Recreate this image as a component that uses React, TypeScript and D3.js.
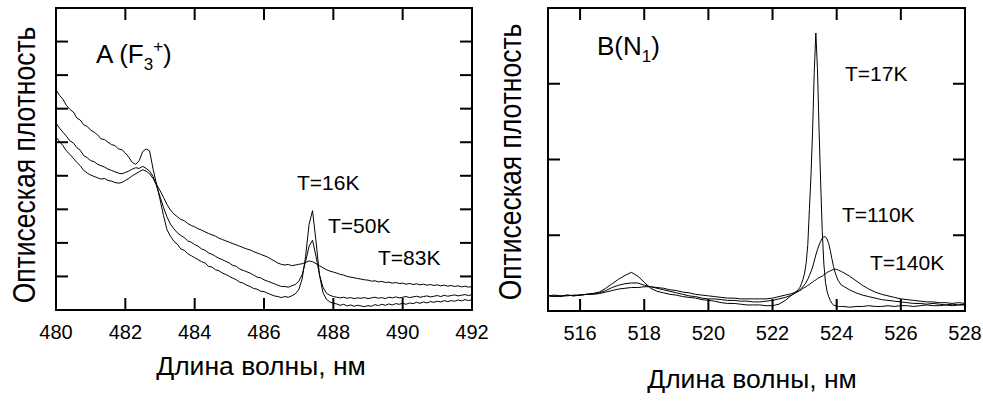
import React from 'react';
import * as d3 from 'd3';

const W = 983;
const H = 403;
const FONT = '"Liberation Sans", Arial, sans-serif';

// panel A (F3+ centre), wavelength grid 480..492 nm, step 0.1
const xA = d3.range(0, 121).map(i => +(480 + i * 0.1).toFixed(2));
const a16K = [
  6.56, 6.40, 6.28, 6.10, 5.98, 5.90, 5.72, 5.66, 5.52, 5.47,
  5.36, 5.30, 5.22, 5.10, 5.08, 5.00, 4.93, 4.90, 4.80, 4.78,
  4.68, 4.55, 4.40, 4.34, 4.45, 4.72, 4.80, 4.74, 4.20, 3.75,
  3.30, 2.82, 2.40, 2.20, 2.05, 1.96, 1.82, 1.78, 1.68, 1.62,
  1.56, 1.50, 1.44, 1.40, 1.30, 1.28, 1.20, 1.17, 1.10, 1.06,
  1.00, 0.95, 0.90, 0.83, 0.80, 0.74, 0.70, 0.64, 0.62, 0.56,
  0.55, 0.50, 0.46, 0.42, 0.40, 0.37, 0.40, 0.38, 0.42, 0.48,
  0.60, 0.92, 1.60, 2.55, 2.96, 2.05, 1.05, 0.52, 0.32, 0.24,
  0.20, 0.18, 0.14, 0.17, 0.12, 0.15, 0.11, 0.14, 0.12, 0.10,
  0.13, 0.11, 0.16, 0.13, 0.17, 0.14, 0.18, 0.15, 0.19, 0.17,
  0.20, 0.17, 0.21, 0.19, 0.23, 0.20, 0.24, 0.21, 0.25, 0.23,
  0.26, 0.24, 0.28, 0.25, 0.28, 0.26, 0.30, 0.27, 0.31, 0.28,
  0.31,
];
const a50K = [
  5.57, 5.42, 5.30, 5.18, 5.04, 4.98, 4.84, 4.76, 4.60, 4.54,
  4.45, 4.42, 4.34, 4.30, 4.26, 4.20, 4.16, 4.12, 4.08, 4.06,
  4.10, 4.14, 4.20, 4.24, 4.22, 4.28, 4.22, 4.14, 3.98, 3.70,
  3.38, 3.06, 2.78, 2.56, 2.42, 2.30, 2.22, 2.16, 2.06, 2.02,
  1.95, 1.90, 1.82, 1.78, 1.70, 1.66, 1.60, 1.54, 1.50, 1.45,
  1.40, 1.33, 1.30, 1.22, 1.18, 1.14, 1.10, 1.04, 0.98, 0.96,
  0.90, 0.86, 0.82, 0.78, 0.74, 0.70, 0.70, 0.68, 0.72, 0.76,
  0.85, 1.05, 1.45, 1.90, 2.08, 1.60, 1.05, 0.68, 0.50, 0.44,
  0.40, 0.38, 0.36, 0.38, 0.35, 0.37, 0.34, 0.36, 0.35, 0.37,
  0.34, 0.36, 0.38, 0.35, 0.37, 0.34, 0.38, 0.36, 0.39, 0.36,
  0.38, 0.40, 0.37, 0.39, 0.41, 0.38, 0.40, 0.42, 0.39, 0.41,
  0.43, 0.40, 0.44, 0.41, 0.43, 0.45, 0.42, 0.44, 0.46, 0.43,
  0.46,
];
const a83K = [
  5.16, 5.02, 4.90, 4.74, 4.64, 4.52, 4.40, 4.30, 4.16, 4.08,
  4.02, 3.98, 3.94, 3.90, 3.92, 3.86, 3.84, 3.80, 3.78, 3.80,
  3.86, 3.92, 4.00, 4.06, 4.12, 4.18, 4.14, 4.06, 3.92, 3.74,
  3.56, 3.36, 3.15, 2.98, 2.86, 2.78, 2.70, 2.66, 2.58, 2.52,
  2.48, 2.42, 2.38, 2.33, 2.28, 2.24, 2.20, 2.14, 2.10, 2.06,
  2.02, 1.98, 1.94, 1.90, 1.86, 1.82, 1.79, 1.74, 1.70, 1.66,
  1.62, 1.58, 1.52, 1.46, 1.40, 1.36, 1.34, 1.36, 1.32, 1.34,
  1.36, 1.38, 1.42, 1.46, 1.44, 1.38, 1.32, 1.26, 1.20, 1.16,
  1.13, 1.10, 1.06, 1.04, 1.00, 0.98, 0.96, 0.94, 0.92, 0.90,
  0.89, 0.86, 0.87, 0.84, 0.85, 0.82, 0.83, 0.80, 0.82, 0.79,
  0.80, 0.77, 0.79, 0.76, 0.78, 0.75, 0.77, 0.74, 0.76, 0.73,
  0.75, 0.72, 0.74, 0.71, 0.73, 0.70, 0.72, 0.69, 0.71, 0.68,
  0.70,
];

// panel B (N1 centre): coarse grid, finer around the 523.4 nm line
const xB = [
  ...d3.range(0, 39).map(i => +(515 + i * 0.2).toFixed(2)),
  ...d3.range(0, 28).map(i => +(522.8 + i * 0.05).toFixed(2)),
  ...d3.range(0, 20).map(i => +(524.2 + i * 0.2).toFixed(2)),
];
const b17K = [
  0.20, 0.20, 0.19, 0.21, 0.20, 0.21, 0.22, 0.23, 0.25, 0.30,
  0.36, 0.42, 0.47, 0.51, 0.46, 0.38, 0.30, 0.26, 0.24, 0.22,
  0.21, 0.19, 0.18, 0.17, 0.15, 0.14, 0.13, 0.11, 0.10, 0.10,
  0.09, 0.08, 0.08, 0.08, 0.07, 0.07, 0.09, 0.14, 0.21,
  0.28, 0.31, 0.36, 0.42, 0.50, 0.64, 0.88, 1.35, 1.80, 2.40,
  3.15, 3.67, 3.20, 2.40, 1.70, 1.05, 0.62, 0.38, 0.26, 0.19,
  0.14, 0.10, 0.08, 0.07, 0.07, 0.06, 0.06, 0.06,
  0.06, 0.05, 0.06, 0.06, 0.07, 0.06, 0.06, 0.07, 0.06, 0.07,
  0.07, 0.06, 0.07, 0.08, 0.07, 0.07, 0.08, 0.07, 0.08, 0.08,
];
const b110K = [
  0.20, 0.21, 0.20, 0.21, 0.20, 0.21, 0.22, 0.23, 0.24, 0.27,
  0.31, 0.34, 0.36, 0.37, 0.37, 0.34, 0.32, 0.30, 0.28, 0.26,
  0.24, 0.22, 0.20, 0.19, 0.17, 0.16, 0.16, 0.15, 0.14, 0.14,
  0.13, 0.13, 0.12, 0.12, 0.13, 0.14, 0.16, 0.18, 0.21,
  0.26, 0.28, 0.30, 0.32, 0.35, 0.38, 0.42, 0.47, 0.52, 0.58,
  0.66, 0.74, 0.81, 0.87, 0.92, 0.96, 0.98, 0.98, 0.95, 0.89,
  0.80, 0.69, 0.59, 0.51, 0.45, 0.40, 0.37, 0.34,
  0.33, 0.28, 0.24, 0.21, 0.19, 0.17, 0.15, 0.14, 0.13, 0.12,
  0.11, 0.10, 0.10, 0.09, 0.10, 0.09, 0.08, 0.09, 0.08, 0.09,
];
const b140K = [
  0.20, 0.19, 0.20, 0.20, 0.21, 0.21, 0.22, 0.22, 0.23, 0.25,
  0.27, 0.29, 0.30, 0.31, 0.31, 0.32, 0.32, 0.31, 0.30, 0.28,
  0.27, 0.25, 0.24, 0.22, 0.21, 0.20, 0.19, 0.18, 0.17, 0.17,
  0.16, 0.16, 0.16, 0.16, 0.16, 0.17, 0.19, 0.21, 0.23,
  0.26, 0.27, 0.28, 0.30, 0.31, 0.32, 0.34, 0.35, 0.37, 0.38,
  0.40, 0.41, 0.43, 0.44, 0.45, 0.46, 0.48, 0.49, 0.51, 0.52,
  0.53, 0.54, 0.55, 0.55, 0.55, 0.54, 0.53, 0.52,
  0.51, 0.46, 0.40, 0.34, 0.29, 0.25, 0.22, 0.20, 0.18, 0.16,
  0.15, 0.14, 0.13, 0.12, 0.12, 0.11, 0.11, 0.10, 0.11, 0.10,
];

const ticksA = [480, 482, 484, 486, 488, 490, 492];
const ticksB = [516, 518, 520, 522, 524, 526, 528];
const yTicksA = [1, 2, 3, 4, 5, 6, 7, 8];
const yTicksB = [1, 2, 3];

const Y_TITLE = 'Оптисеская плотность';
const X_TITLE = 'Длина волны, нм';

type PanelProps = {
  id: string;
  xs: number[];
  series: number[][];
  xDomain: [number, number];
  yMax: number;
  left: number; right: number; top: number; bottom: number;
  xTicks: number[];
  yTicks: number[];
};

const TL = 12;

function Panel(p: PanelProps) {
  const x = d3.scaleLinear().domain(p.xDomain).range([p.left, p.right]);
  const y = d3.scaleLinear().domain([0, p.yMax]).range([p.bottom, p.top]);
  const line = d3.line<number>().x((_, i) => x(p.xs[i])).y(d => y(d));
  const inner = p.xTicks.filter(t => t > p.xDomain[0] && t < p.xDomain[1]);
  return (
    <g>
      <defs>
        <clipPath id={p.id}>
          <rect x={p.left} y={p.top} width={p.right - p.left} height={p.bottom - p.top} />
        </clipPath>
      </defs>
      <g clipPath={`url(#${p.id})`}>
        {p.series.map((s, k) => (
          <path key={k} d={line(s) || ''} fill="none" stroke="#000" strokeWidth={1} strokeLinejoin="round" />
        ))}
      </g>
      <g stroke="#000" strokeWidth={2}>
        {inner.map(t => (
          <g key={t}>
            <line x1={x(t)} x2={x(t)} y1={p.bottom} y2={p.bottom - TL} />
            <line x1={x(t)} x2={x(t)} y1={p.top} y2={p.top + TL} />
          </g>
        ))}
        {p.yTicks.map(t => (
          <g key={t}>
            <line x1={p.left} x2={p.left + TL} y1={y(t)} y2={y(t)} />
            <line x1={p.right} x2={p.right - TL} y1={y(t)} y2={y(t)} />
          </g>
        ))}
      </g>
      <rect x={p.left} y={p.top} width={p.right - p.left} height={p.bottom - p.top}
        fill="none" stroke="#000" strokeWidth={2} />
      <g fontFamily={FONT} fontSize={20} textAnchor="middle" fill="#000">
        {p.xTicks.map(t => (
          <text key={t} x={x(t)} y={p.bottom + 29}>{t}</text>
        ))}
      </g>
    </g>
  );
}

export default function App() {
  return (
    <svg width={W} height={H} style={{ position: 'absolute', left: 0, top: 0, background: '#fff' }}>
      <rect width={W} height={H} fill="#fff" />
      <Panel id="clipA" xs={xA} series={[a16K, a50K, a83K]} xDomain={[480, 492]} yMax={9}
        left={56} right={472} top={8} bottom={310} xTicks={ticksA} yTicks={yTicksA} />
      <Panel id="clipB" xs={xB} series={[b17K, b110K, b140K]} xDomain={[515, 528]} yMax={4}
        left={548} right={965} top={8} bottom={311} xTicks={ticksB} yTicks={yTicksB} />

      <g fontFamily={FONT} fill="#000">
        <text fontSize={26.5} textAnchor="middle" transform="translate(35,165) rotate(-90) scale(1,1.2)">{Y_TITLE}</text>
        <text fontSize={26.5} textAnchor="middle" transform="translate(521,162) rotate(-90) scale(1,1.2)">{Y_TITLE}</text>
        <text fontSize={26.5} textAnchor="middle" x={261} y={375}>{X_TITLE}</text>
        <text fontSize={26.5} textAnchor="middle" x={752} y={388}>{X_TITLE}</text>

        <text fontSize={26} x={96} y={63}>
          A (F<tspan fontSize={17} dy={7}>3</tspan><tspan fontSize={17} dy={-18}>+</tspan><tspan dy={11}>)</tspan>
        </text>
        <text fontSize={26} x={597} y={55}>
          B(N<tspan fontSize={17} dy={7}>1</tspan><tspan dy={-7}>)</tspan>
        </text>

        <g fontSize={21}>
          <text x={297} y={190}>T=16K</text>
          <text x={328} y={233}>T=50K</text>
          <text x={378} y={265}>T=83K</text>
          <text x={845} y={81}>T=17K</text>
          <text x={842} y={222}>T=110K</text>
          <text x={870} y={270}>T=140K</text>
        </g>
      </g>
    </svg>
  );
}
